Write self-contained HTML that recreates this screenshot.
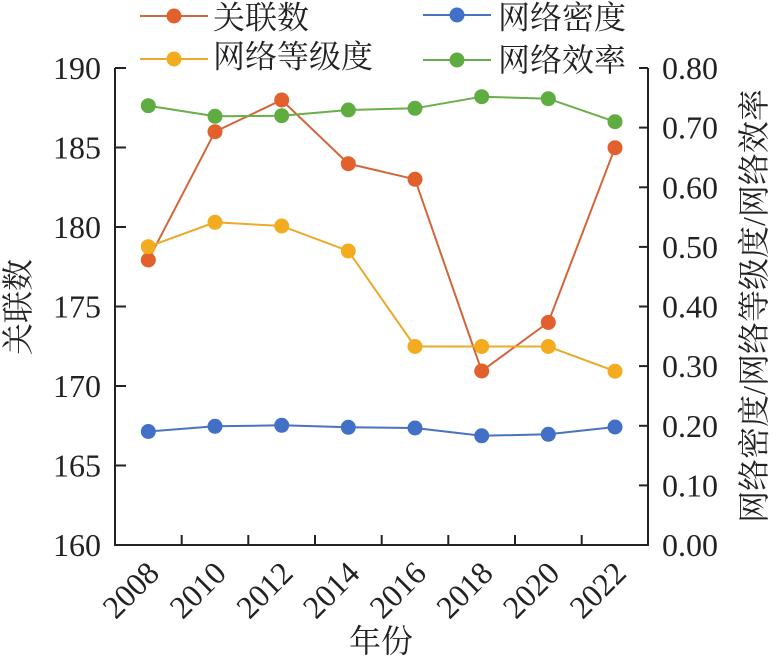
<!DOCTYPE html>
<html><head><meta charset="utf-8"><style>
html,body{margin:0;padding:0;background:#fff;}
svg{display:block;}
.t{font-family:"Liberation Serif",serif;font-size:32px;fill:#222;}
.c{font-family:"Liberation Serif","Noto Serif CJK SC","Noto Sans CJK SC",serif;font-size:32px;fill:#222;}
</style></head><body>
<svg width="776" height="661" viewBox="0 0 776 661" xmlns="http://www.w3.org/2000/svg">
<rect width="776" height="661" fill="#fff"/>
<g stroke="#222" stroke-width="2" fill="none">
<line x1="115" y1="68" x2="115" y2="546"/>
<line x1="648" y1="68" x2="648" y2="546"/>
<line x1="114" y1="545" x2="649" y2="545"/>
<line x1="115" y1="68" x2="126" y2="68"/>
<line x1="115" y1="147.5" x2="126" y2="147.5"/>
<line x1="115" y1="227" x2="126" y2="227"/>
<line x1="115" y1="306.5" x2="126" y2="306.5"/>
<line x1="115" y1="386" x2="126" y2="386"/>
<line x1="115" y1="465.5" x2="126" y2="465.5"/>
<line x1="639" y1="68" x2="648" y2="68"/>
<line x1="639" y1="127.6" x2="648" y2="127.6"/>
<line x1="639" y1="187.3" x2="648" y2="187.3"/>
<line x1="639" y1="246.9" x2="648" y2="246.9"/>
<line x1="639" y1="306.5" x2="648" y2="306.5"/>
<line x1="639" y1="366.1" x2="648" y2="366.1"/>
<line x1="639" y1="425.8" x2="648" y2="425.8"/>
<line x1="639" y1="485.4" x2="648" y2="485.4"/>
<line x1="181.7" y1="535" x2="181.7" y2="545"/>
<line x1="248.3" y1="535" x2="248.3" y2="545"/>
<line x1="315" y1="535" x2="315" y2="545"/>
<line x1="381.7" y1="535" x2="381.7" y2="545"/>
<line x1="448.3" y1="535" x2="448.3" y2="545"/>
<line x1="515" y1="535" x2="515" y2="545"/>
<line x1="581.7" y1="535" x2="581.7" y2="545"/>
</g>
<g class="t" text-anchor="end">
<text x="101" y="79">190</text>
<text x="101" y="158.5">185</text>
<text x="101" y="238">180</text>
<text x="101" y="317.5">175</text>
<text x="101" y="397">170</text>
<text x="101" y="476.5">165</text>
<text x="101" y="556">160</text>
</g>
<g class="t" text-anchor="start">
<text x="662" y="79">0.80</text>
<text x="662" y="138.6">0.70</text>
<text x="662" y="198.3">0.60</text>
<text x="662" y="257.9">0.50</text>
<text x="662" y="317.5">0.40</text>
<text x="662" y="377.1">0.30</text>
<text x="662" y="436.8">0.20</text>
<text x="662" y="496.4">0.10</text>
<text x="662" y="556">0.00</text>
</g>
<g class="t" text-anchor="end">
<text transform="translate(161,575) rotate(-45)">2008</text>
<text transform="translate(228,575) rotate(-45)">2010</text>
<text transform="translate(294.7,575) rotate(-45)">2012</text>
<text transform="translate(361.3,575) rotate(-45)">2014</text>
<text transform="translate(428,575) rotate(-45)">2016</text>
<text transform="translate(494.7,575) rotate(-45)">2018</text>
<text transform="translate(561.3,575) rotate(-45)">2020</text>
<text transform="translate(628,575) rotate(-45)">2022</text>
</g>
<text class="c" x="381" y="641" text-anchor="middle" dominant-baseline="central">年份</text>
<text class="c" transform="translate(18,307) rotate(-90)" text-anchor="middle" dominant-baseline="central">关联数</text>
<text class="c" transform="translate(754,306) rotate(-90)" text-anchor="middle" dominant-baseline="central">网络密度/网络等级度/网络效率</text>
<polyline fill="none" stroke="#D2653A" stroke-width="2" points="148.3,260 215,131.7 281.7,100 348.3,163.7 415,179.3 481.7,371 548.3,322.4 615,147.7"/>
<g fill="#E2602C">
<circle cx="148.3" cy="260" r="7.5"/><circle cx="215" cy="131.7" r="7.5"/><circle cx="281.7" cy="100" r="7.5"/><circle cx="348.3" cy="163.7" r="7.5"/><circle cx="415" cy="179.3" r="7.5"/><circle cx="481.7" cy="371" r="7.5"/><circle cx="548.3" cy="322.4" r="7.5"/><circle cx="615" cy="147.7" r="7.5"/>
</g>
<polyline fill="none" stroke="#4A72C0" stroke-width="2" points="148.3,431.5 215,426.3 281.7,425.3 348.3,427.3 415,428 481.7,435.8 548.3,434.3 615,427"/>
<g fill="#4270C6">
<circle cx="148.3" cy="431.5" r="7.5"/><circle cx="215" cy="426.3" r="7.5"/><circle cx="281.7" cy="425.3" r="7.5"/><circle cx="348.3" cy="427.3" r="7.5"/><circle cx="415" cy="428" r="7.5"/><circle cx="481.7" cy="435.8" r="7.5"/><circle cx="548.3" cy="434.3" r="7.5"/><circle cx="615" cy="427" r="7.5"/>
</g>
<polyline fill="none" stroke="#EBAA2A" stroke-width="2" points="148.3,246.7 215,222.3 281.7,226 348.3,251 415,346.5 481.7,346.5 548.3,346.5 615,371.2"/>
<g fill="#F3AC20">
<circle cx="148.3" cy="246.7" r="7.5"/><circle cx="215" cy="222.3" r="7.5"/><circle cx="281.7" cy="226" r="7.5"/><circle cx="348.3" cy="251" r="7.5"/><circle cx="415" cy="346.5" r="7.5"/><circle cx="481.7" cy="346.5" r="7.5"/><circle cx="548.3" cy="346.5" r="7.5"/><circle cx="615" cy="371.2" r="7.5"/>
</g>
<polyline fill="none" stroke="#6AAE4A" stroke-width="2" points="148.3,105.7 215,116.3 281.7,115.7 348.3,110 415,108.3 481.7,96.7 548.3,98.7 615,121.7"/>
<g fill="#5FAC40">
<circle cx="148.3" cy="105.7" r="7.5"/><circle cx="215" cy="116.3" r="7.5"/><circle cx="281.7" cy="115.7" r="7.5"/><circle cx="348.3" cy="110" r="7.5"/><circle cx="415" cy="108.3" r="7.5"/><circle cx="481.7" cy="96.7" r="7.5"/><circle cx="548.3" cy="98.7" r="7.5"/><circle cx="615" cy="121.7" r="7.5"/>
</g>
<line x1="140" y1="16" x2="208" y2="16" stroke="#D2653A" stroke-width="2"/>
<circle cx="174" cy="16" r="7.5" fill="#E2602C"/>
<text class="c" x="213" y="17.5" dominant-baseline="central">关联数</text>
<line x1="140" y1="59" x2="208" y2="59" stroke="#EBAA2A" stroke-width="2"/>
<circle cx="174" cy="59" r="7.5" fill="#F3AC20"/>
<text class="c" x="213" y="56.5" dominant-baseline="central">网络等级度</text>
<line x1="423" y1="15" x2="491" y2="15" stroke="#4A72C0" stroke-width="2"/>
<circle cx="457" cy="15" r="7.5" fill="#4270C6"/>
<text class="c" x="498" y="17.5" dominant-baseline="central">网络密度</text>
<line x1="423" y1="60" x2="491" y2="60" stroke="#6AAE4A" stroke-width="2"/>
<circle cx="457" cy="60" r="7.5" fill="#5FAC40"/>
<text class="c" x="498" y="60" dominant-baseline="central">网络效率</text>
</svg>
</body></html>
